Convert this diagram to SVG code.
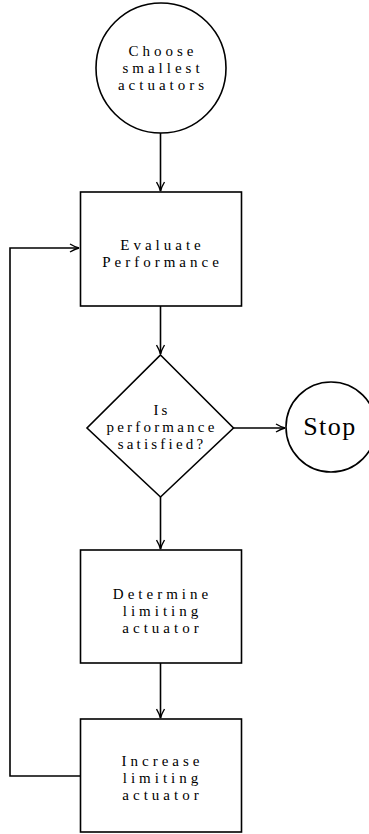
<svg xmlns="http://www.w3.org/2000/svg" width="369" height="834" viewBox="0 0 369 834">
<defs>
<style>
.s{fill:#fff;stroke:#000;stroke-width:1.6}
.c{fill:none;stroke:#000;stroke-width:1.6}
.t{font-family:"Liberation Serif","DejaVu Serif",serif;font-size:15px;letter-spacing:4px;text-anchor:middle;fill:#000}
.d{letter-spacing:3.2px}
.big{font-size:26px;letter-spacing:1.5px}
</style>
<marker id="ah" viewBox="-10 -5 11 10" refX="0" refY="0" markerWidth="11" markerHeight="10" markerUnits="userSpaceOnUse" orient="auto">
<path d="M-9,-4 Q-4,-1 0,0 Q-4,1 -9,4" fill="none" stroke="#000" stroke-width="1.4"/>
</marker>
</defs>
<rect width="369" height="834" fill="#fff"/>
<g id="connectors">
<line class="c" x1="160.5" y1="133" x2="160.5" y2="191" marker-end="url(#ah)"/>
<line class="c" x1="160.5" y1="306" x2="160.5" y2="354" marker-end="url(#ah)"/>
<line class="c" x1="233" y1="428" x2="285" y2="428" marker-end="url(#ah)"/>
<line class="c" x1="160.5" y1="497" x2="160.5" y2="549" marker-end="url(#ah)"/>
<line class="c" x1="160.5" y1="663" x2="160.5" y2="718" marker-end="url(#ah)"/>
<polyline class="c" points="80,776 10,776 10,248 79,248" marker-end="url(#ah)"/>
</g>
<g id="start">
<circle class="s" cx="161" cy="68" r="65"/>
<text class="t" x="163" y="56">Choose</text>
<text class="t" x="163" y="73">smallest</text>
<text class="t" x="163" y="90">actuators</text>
</g>
<g id="evaluate">
<rect class="s" x="80.5" y="192" width="161" height="114"/>
<text class="t" x="162.5" y="250">Evaluate</text>
<text class="t" x="162.5" y="267">Performance</text>
</g>
<g id="decision">
<polygon class="s" points="160.5,355 233.5,428 160.5,497 87,428"/>
<text class="t d" x="162" y="414.5">Is</text>
<text class="t d" x="162" y="431.5">performance</text>
<text class="t d" x="162" y="448.5">satisfied?</text>
</g>
<g id="stop">
<circle class="s" cx="331" cy="427" r="45"/>
<text class="t big" x="330" y="435">Stop</text>
</g>
<g id="determine">
<rect class="s" x="80.5" y="550" width="161" height="113"/>
<text class="t" x="162.5" y="598.5">Determine</text>
<text class="t" x="162.5" y="615.5">limiting</text>
<text class="t" x="162.5" y="632.5">actuator</text>
</g>
<g id="increase">
<rect class="s" x="80.5" y="719" width="161" height="113"/>
<text class="t" x="162.5" y="765.5">Increase</text>
<text class="t" x="162.5" y="782.5">limiting</text>
<text class="t" x="162.5" y="799.5">actuator</text>
</g>
</svg>
